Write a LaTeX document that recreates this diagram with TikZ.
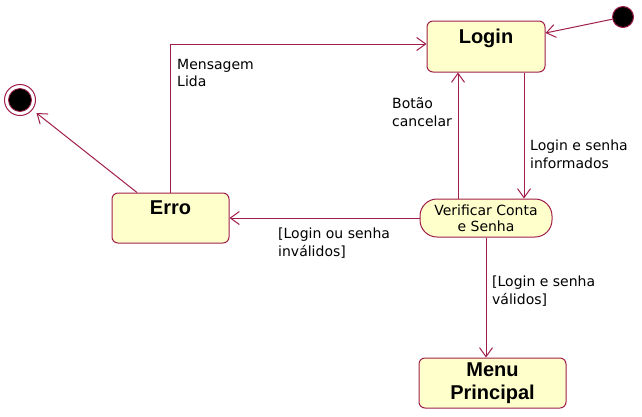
\documentclass[tikz,border=0pt]{standalone}
\usepackage{fontspec}
\usetikzlibrary{arrows.meta}
\newfontfamily\labfont{DejaVu Sans}
\newfontfamily\ttlfont{Liberation Sans}
\definecolor{umlline}{RGB}{160,30,75}
\definecolor{umlfill}{RGB}{255,255,204}
\begin{document}
\begin{tikzpicture}[x=1pt,y=-1pt,
  statebox/.style={rectangle,rounded corners=6pt,draw=umlline,fill=umlfill,line width=1pt,inner sep=0pt,
    font=\ttlfont\bfseries\fontsize{20}{23}\selectfont,align=center},
  activity/.style={rectangle,rounded corners=17pt,draw=umlline,fill=umlfill,line width=1pt,inner sep=0pt,
    font=\labfont\fontsize{14}{16}\selectfont,align=center},
  lbl/.style={font=\labfont\fontsize{14}{17.5}\selectfont,align=left,inner sep=0pt,anchor=north west},
  trans/.style={draw=umlline,line width=1pt,-{Straight Barb[length=9pt,width=13pt]}}
]
\useasboundingbox (0,0) rectangle (642,416);
% states
\node[statebox,minimum width=118pt,text height=22pt,text depth=29pt] (login) at (486,46.5) {Login};
\node[statebox,minimum width=117pt,text height=21pt,text depth=29pt] (erro) at (170.5,218) {Erro};
\node[statebox,minimum width=147pt,minimum height=50pt] (menu) at (492.5,383) {Menu\\Principal};
\node[activity,minimum width=132pt,minimum height=38pt] (verif) at (486,218) {Verificar Conta\\e Senha};
% pseudo states
\node[circle,draw=umlline,fill=black,line width=1pt,minimum size=21pt,inner sep=0pt] (init) at (623,17) {};
\node[circle,draw=umlline,fill=white,line width=1pt,minimum size=31pt,inner sep=0pt,
  path picture={\fill[black,draw=umlline,line width=0.8pt] (path picture bounding box.center) circle (11.5pt);}] (final) at (20,100) {};
% transitions
\draw[trans] (init) -- ([yshift=13.5pt]login.east);
\draw[trans] (erro.north) |- ([yshift=2.5pt]login.west);
\draw[trans] ([xshift=-28pt]verif.north) -- ([xshift=-28pt]login.south);
\draw[trans] ([xshift=38pt]login.south) -- ([xshift=38pt]verif.north);
\draw[trans] (verif.west) -- (erro.east);
\draw[trans] (verif.south) -- (verif.south |- menu.north);
\draw[trans,shorten >=5pt] ([xshift=-33.5pt]erro.north) -- (final);
% labels
\node[lbl] (lmsg) at (177,56.75) {\strut Mensagem\\Lida};
\node[lbl] (lbot) at (392,96.5) {\strut Botão\\cancelar};
\node[lbl] (linf) at (530,138.5) {\strut Login e senha\\informados};
\node[lbl] (linv) at (278,226.5) {\strut [Login ou senha\\inválidos]};
\node[lbl] (lval) at (492,274.5) {\strut [Login e senha\\válidos]};
\end{tikzpicture}
\end{document}
